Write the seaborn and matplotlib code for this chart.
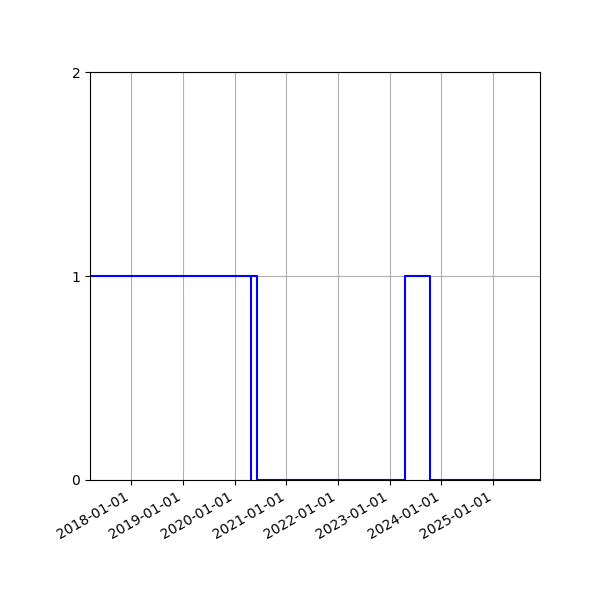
import pandas as pd
import matplotlib
matplotlib.use("Agg")
import matplotlib.pyplot as plt
import matplotlib.dates as mdates
import seaborn as sns

# two pieces of the step line (the first one stops right where it drops)
seg1_dates = ["2017-03-15", "2020-04-23"]
seg1_values = [1, 0]
seg2_dates = ["2020-04-23", "2020-06-08", "2023-04-15", "2023-10-13", "2025-11-27"]
seg2_values = [1, 0, 1, 0, 0]

df = pd.concat([
    pd.DataFrame({"date": pd.to_datetime(seg1_dates), "value": seg1_values, "seg": 0}),
    pd.DataFrame({"date": pd.to_datetime(seg2_dates), "value": seg2_values, "seg": 1}),
], ignore_index=True)

fig, ax = plt.subplots(figsize=(6, 6), dpi=100)
sns.lineplot(data=df, x="date", y="value", units="seg", estimator=None,
             color="blue", drawstyle="steps-post", linewidth=1.5, ax=ax)

ax.set_xlim(df["date"].min(), df["date"].max())
ax.set_ylim(0, 2)
ax.set_yticks([0, 1, 2])
ax.xaxis.set_major_locator(mdates.YearLocator())
ax.xaxis.set_major_formatter(mdates.DateFormatter("%Y-%m-%d"))
ax.set_xlabel("")
ax.set_ylabel("")
ax.grid(True)
fig.autofmt_xdate()
fig.subplots_adjust(left=0.15, right=0.9, top=0.88, bottom=0.2)
fig.savefig("out.png")
